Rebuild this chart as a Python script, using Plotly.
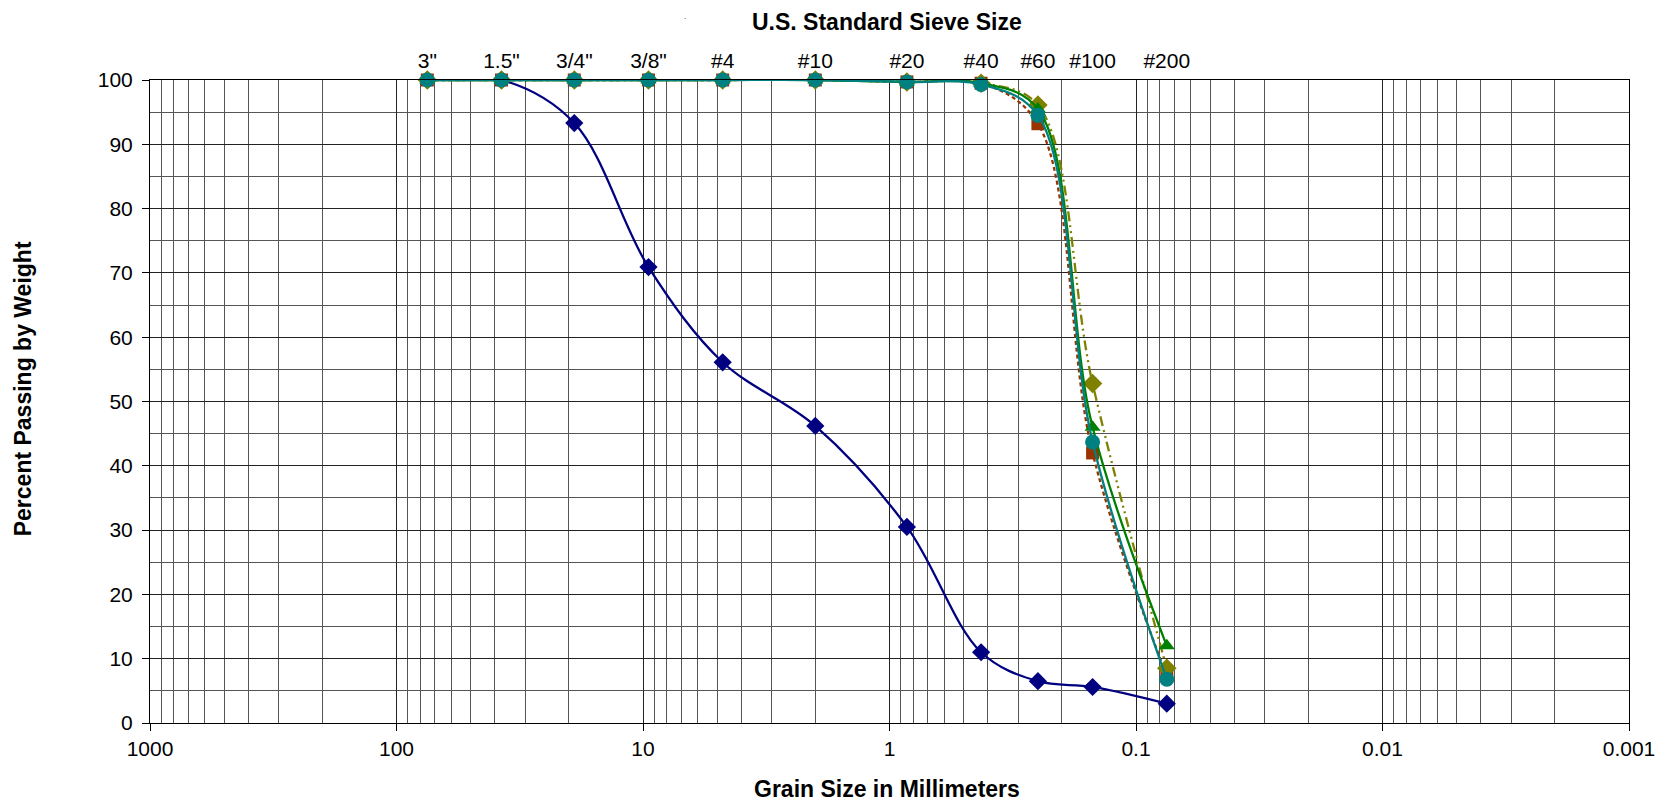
import plotly.graph_objects as go

# ---- data ----
sieve_mm = [75, 37.5, 19, 9.5, 4.75, 2.0, 0.85, 0.425, 0.25, 0.15, 0.075]
sieve_labels = ['3"', '1.5"', '3/4"', '3/8"', '#4', '#10', '#20', '#40', '#60', '#100', '#200']
navy_pass = [100, 100, 93.3, 70.9, 56.1, 46.2, 30.5, 11.0, 6.5, 5.6, 3.0]
brown_pass = [100, 100, 100, 100, 100, 100, 99.7, 99.5, 93.2, 42.0, 7.3]
olive_pass = [100, 100, 100, 100, 100, 100, 99.7, 99.5, 96.1, 52.8, 8.5]
green_pass = [100, 100, 100, 100, 100, 100, 99.7, 99.5, 95.5, 46.0, 12.0]
teal_pass = [100, 100, 100, 100, 100, 100, 99.7, 99.3, 94.5, 43.7, 6.8]
x_major = [1000, 100, 10, 1, 0.1, 0.01, 0.001]
x_major_text = ["1000", "100", "10", "1", "0.1", "0.01", "0.001"]

FONT = "Liberation Sans, Arial, sans-serif"
TICK = 21

series = [
    ("navy", navy_pass, "#000080", "diamond", 14, "solid"),
    ("brown", brown_pass, "#993300", "square", 13, "4px,3px"),
    ("olive", olive_pass, "#808000", "diamond", 15, "10px,4px,2px,4px,2px,4px"),
    ("green", green_pass, "#008000", "triangle-up", 14, "solid"),
    ("teal", teal_pass, "#008080", "circle", 15, "solid"),
]

fig = go.Figure()
for name, vals, col, sym, sz, dash in series:
    fig.add_trace(go.Scatter(
        x=sieve_mm, y=vals, name=name, mode="lines+markers",
        line=dict(color=col, width=2.3, shape="spline", smoothing=1, dash=dash),
        marker=dict(color=col, symbol=sym, size=sz, line=dict(width=0)),
        showlegend=False, cliponaxis=False,
    ))

minor_vals = [m * 10 ** e for e in range(-3, 3) for m in range(2, 10)]

# the page body has an 8px margin; compensate so the plot area sits where the reference has it
fig.update_layout(
    width=1664, height=797,
    margin=dict(l=142, r=43, t=72, b=82),
    paper_bgcolor="white", plot_bgcolor="white",
    font=dict(family=FONT, size=TICK, color="black"),
    xaxis=dict(
        type="log", range=[3, -3],
        tickmode="array", tickvals=x_major, ticktext=x_major_text,
        ticks="outside", ticklen=7, tickcolor="black",
        showgrid=True, gridcolor="#222", gridwidth=1,
        showline=True, linecolor="black", linewidth=1, mirror=True,
        minor=dict(tickmode="array", tickvals=minor_vals, showgrid=True,
                   gridcolor="#555", gridwidth=1, ticks=""),
        zeroline=False,
        tickfont=dict(size=TICK),
    ),
    xaxis2=dict(
        type="log", range=[3, -3], overlaying="x", side="top", anchor="y",
        tickmode="array", tickvals=sieve_mm, ticktext=sieve_labels,
        ticks="outside", ticklen=3, tickcolor="rgba(0,0,0,0)",
        showgrid=False, showline=False, zeroline=False,
        tickfont=dict(size=TICK),
    ),
    yaxis=dict(
        range=[0, 100], dtick=10, tick0=0,
        ticks="outside", ticklen=7, tickcolor="black",
        showgrid=True, gridcolor="#222", gridwidth=1,
        showline=True, linecolor="black", linewidth=1, mirror=True,
        minor=dict(dtick=5, showgrid=True, gridcolor="#555", gridwidth=1, ticks=""),
        zeroline=False, ticklabelstandoff=5,
        tickfont=dict(size=TICK),
    ),
    annotations=[
        dict(text="<b>U.S. Standard Sieve Size</b>", xref="paper", yref="paper",
             x=0.498, y=1.0, yshift=58, showarrow=False, font=dict(size=23),
             xanchor="center", yanchor="middle"),
        dict(text="<b>Grain Size in Millimeters</b>", xref="paper", yref="paper",
             x=0.498, y=0, yshift=-66, showarrow=False, font=dict(size=23),
             xanchor="center", yanchor="middle"),
        dict(text="<b>Percent Passing by Weight</b>", xref="paper", yref="paper",
             x=0, xshift=-127, y=0.519, showarrow=False, font=dict(size=23),
             textangle=-90, xanchor="center", yanchor="middle"),
        dict(text=".", xref="paper", yref="paper", x=0.362, y=1.0, yshift=64,
             showarrow=False, font=dict(size=8), xanchor="center", yanchor="middle"),
    ],
)
# invisible trace so the top (sieve) axis is active
fig.add_trace(go.Scatter(x=[sieve_mm[0]], y=[100], xaxis="x2", mode="markers",
                         marker=dict(opacity=0), showlegend=False, hoverinfo="skip"))

fig.write_html("out.html")
